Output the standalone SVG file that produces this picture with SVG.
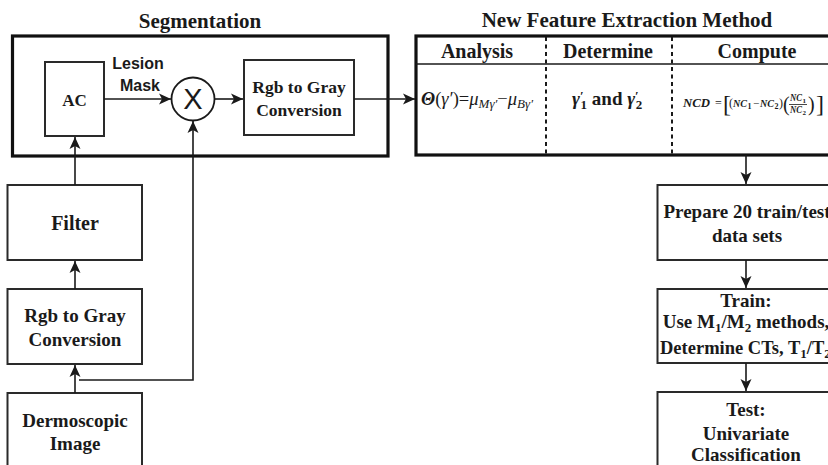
<svg xmlns="http://www.w3.org/2000/svg" width="828" height="465" viewBox="0 0 828 465">
<defs>
<marker id="ah" markerUnits="userSpaceOnUse" markerWidth="14" markerHeight="12" refX="12" refY="6" orient="auto">
<path d="M0,0.5 L12,6 L0,11.5 L3,6 Z" fill="#1a1a1a"/>
</marker>
<style>
.box{fill:#fff;stroke:#2a2a2a;stroke-width:2}
.big{fill:none;stroke:#111;stroke-width:3.2}
.t{font-family:"Liberation Serif","Times New Roman",serif;font-weight:bold;fill:#1a1a1a;text-anchor:middle}
.ts{text-anchor:start}
.s{font-family:"Liberation Sans",Arial,sans-serif;font-weight:bold;fill:#1a1a1a}
.c{fill:none;stroke:#1a1a1a;stroke-width:1.6}
.m{font-family:"Liberation Serif","DejaVu Serif",serif;fill:#1a1a1a}
.bi{font-weight:bold;font-style:italic}
</style>
</defs>
<rect width="828" height="465" fill="#fff"/>

<g id="segmentation">
<text class="t" x="200" y="28" font-size="21">Segmentation</text>
<rect class="big" x="12.5" y="36" width="375.5" height="120"/>
</g>

<g id="ac">
<rect class="box" x="45" y="62" width="59" height="74"/>
<text class="t" x="74.5" y="106" font-size="17">AC</text>
</g>

<g id="lesion-label">
<text class="s" x="138" y="69" font-size="16" text-anchor="middle">Lesion</text>
<text class="s" x="140" y="91" font-size="16" text-anchor="middle">Mask</text>
</g>

<g id="multiply">
<circle cx="193" cy="99" r="21.5" fill="#fff" stroke="#1a1a1a" stroke-width="1.8"/>
<text x="193" y="109" font-family="'Liberation Sans',Arial,sans-serif" font-size="29" text-anchor="middle" fill="#1a1a1a">X</text>
</g>

<g id="rgb2gray-seg">
<rect class="box" x="244" y="60" width="110" height="75"/>
<text class="t" x="299" y="93" font-size="17.5">Rgb to Gray</text>
<text class="t" x="299" y="116" font-size="17.5">Conversion</text>
</g>

<g id="filter">
<rect class="box" x="7.5" y="185" width="134.5" height="75"/>
<text class="t" x="75" y="230" font-size="20">Filter</text>
</g>

<g id="rgb2gray-left">
<rect class="box" x="7.5" y="289" width="134.5" height="75"/>
<text class="t" x="75" y="322" font-size="19">Rgb to Gray</text>
<text class="t" x="75" y="346" font-size="19">Conversion</text>
</g>

<g id="dermoscopic">
<rect class="box" x="7.5" y="393" width="134.5" height="80"/>
<text class="t" x="75" y="427" font-size="19">Dermoscopic</text>
<text class="t" x="75" y="450" font-size="19">Image</text>
</g>

<g id="feature-extraction">
<text class="t" x="627" y="27" font-size="21">New Feature Extraction Method</text>
<rect class="big" x="416" y="36" width="430" height="119"/>
<line x1="416" y1="64" x2="828" y2="64" stroke="#1a1a1a" stroke-width="1.6"/>
<line x1="546" y1="37" x2="546" y2="155" stroke="#1a1a1a" stroke-width="2" stroke-dasharray="4,3.5"/>
<line x1="672" y1="37" x2="672" y2="155" stroke="#1a1a1a" stroke-width="2" stroke-dasharray="4,3.5"/>
<text class="t" x="477" y="58" font-size="20">Analysis</text>
<text class="t" x="608" y="58" font-size="20">Determine</text>
<text class="t" x="757" y="58" font-size="20">Compute</text>
<text class="m" x="421" y="105" font-size="18.5" font-style="italic"><tspan font-weight="bold">Θ</tspan><tspan font-style="normal">(</tspan>γ′<tspan font-style="normal">)=</tspan>μ<tspan dy="3" font-size="13">Mγ′</tspan><tspan dy="-3" font-style="normal">−</tspan>μ<tspan dy="3" font-size="13">Bγ′</tspan></text>
<text class="m" x="572" y="105" font-size="19" font-weight="bold"><tspan font-style="italic">γ</tspan><tspan dy="-5" font-size="13">′</tspan><tspan dx="-3" dy="9" font-size="13">1</tspan><tspan dy="-4"> and </tspan><tspan font-style="italic">γ</tspan><tspan dy="-5" font-size="13">′</tspan><tspan dx="-3" dy="9" font-size="13">2</tspan></text>
<text class="m bi" x="683" y="107" font-size="12" textLength="27" lengthAdjust="spacingAndGlyphs">NCD</text>
<text class="m" x="715" y="107" font-size="12">=</text>
<text class="m" x="723" y="112" font-size="24">[</text>
<text class="m" x="729" y="107" font-size="12">(</text>
<text class="m bi" x="733" y="107" font-size="11" textLength="14" lengthAdjust="spacingAndGlyphs">NC</text>
<text class="m" x="747.5" y="109" font-size="8" font-weight="bold">1</text>
<text class="m" x="753" y="107" font-size="11">−</text>
<text class="m bi" x="760" y="107" font-size="11" textLength="14" lengthAdjust="spacingAndGlyphs">NC</text>
<text class="m" x="774.5" y="109" font-size="8" font-weight="bold">2</text>
<text class="m" x="779" y="107" font-size="12">)</text>
<text class="m" x="783" y="111" font-size="20">(</text>
<text class="m bi" x="790" y="101" font-size="10" textLength="12" lengthAdjust="spacingAndGlyphs">NC</text>
<text class="m" x="802.5" y="103" font-size="7" font-weight="bold">1</text>
<line x1="789" y1="104.5" x2="807" y2="104.5" stroke="#1a1a1a" stroke-width="0.8"/>
<text class="m bi" x="790" y="113" font-size="10" textLength="12" lengthAdjust="spacingAndGlyphs">NC</text>
<text class="m" x="802.5" y="115" font-size="7" font-weight="bold">2</text>
<text class="m" x="808" y="111" font-size="20">)</text>
<text class="m" x="816" y="112" font-size="24">]</text>
</g>

<g id="prepare">
<rect class="box" x="657.5" y="185" width="180" height="75"/>
<text class="t" x="747" y="218" font-size="19">Prepare 20 train/test</text>
<text class="t" x="747" y="242" font-size="19">data sets</text>
</g>

<g id="train">
<rect class="box" x="657.5" y="289" width="180" height="74"/>
<text class="t" x="746" y="307" font-size="19">Train:</text>
<text class="t" x="746" y="328" font-size="19">Use M<tspan dy="4" font-size="13">1</tspan><tspan dy="-4">/M</tspan><tspan dy="4" font-size="13">2</tspan><tspan dy="-4"> methods,</tspan></text>
<text class="t ts" x="660" y="354" font-size="18.5">Determine CTs, T<tspan dy="4" font-size="13">1</tspan><tspan dy="-4">/T</tspan><tspan dy="4" font-size="13">2</tspan></text>
</g>

<g id="test">
<rect class="box" x="657.5" y="392" width="180" height="80"/>
<text class="t" x="746" y="416" font-size="19">Test:</text>
<text class="t" x="746" y="440" font-size="19">Univariate</text>
<text class="t" x="746" y="461" font-size="19">Classification</text>
</g>

<g id="connectors">
<line class="c" x1="104" y1="99" x2="171" y2="99" marker-end="url(#ah)"/>
<line class="c" x1="214.5" y1="99" x2="243" y2="99" marker-end="url(#ah)"/>
<line class="c" x1="354" y1="99" x2="415" y2="99" marker-end="url(#ah)"/>
<line class="c" x1="75" y1="185" x2="75" y2="137" marker-end="url(#ah)"/>
<line class="c" x1="75" y1="289" x2="75" y2="261" marker-end="url(#ah)"/>
<line class="c" x1="75" y1="393" x2="75" y2="365" marker-end="url(#ah)"/>
<polyline class="c" points="79,380 193,380 193,121" marker-end="url(#ah)"/>
<line class="c" x1="746" y1="155" x2="746" y2="184" marker-end="url(#ah)"/>
<line class="c" x1="746" y1="260" x2="746" y2="288" marker-end="url(#ah)"/>
<line class="c" x1="746" y1="363" x2="746" y2="391" marker-end="url(#ah)"/>
</g>
</svg>
